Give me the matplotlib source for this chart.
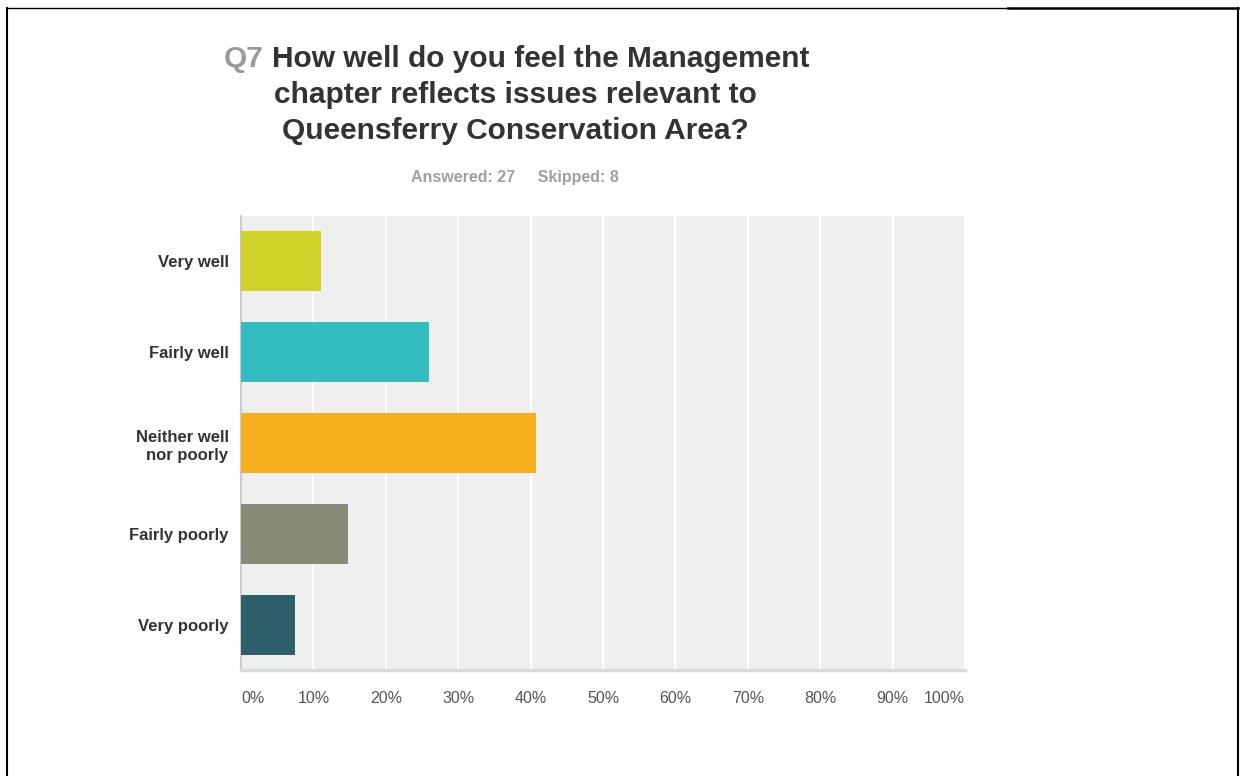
import matplotlib.pyplot as plt
from matplotlib.lines import Line2D

# survey answers (percent of 27 respondents)
categories = ["Very well", "Fairly well", "Neither well\nnor poorly", "Fairly poorly", "Very poorly"]
percents = [11.11, 25.93, 40.74, 14.81, 7.41]
colors = ["#D0D42A", "#33BDBF", "#F6AF1F", "#888A78", "#2D5F6B"]
xticks = [0, 10, 20, 30, 40, 50, 60, 70, 80, 90, 100]
xtick_labels = ["0%", "10%", "20%", "30%", "40%", "50%", "60%", "70%", "80%", "90%", "100%"]

W, H = 1240, 776
fig = plt.figure(figsize=(W / 100, H / 100), dpi=100)
fig.patch.set_facecolor("white")
plt.rcParams["font.family"] = ["Liberation Sans", "DejaVu Sans"]


def px(x, y):
    return x / W, 1 - y / H


ax = fig.add_axes([241 / W, 1 - 670 / H, (965 - 241) / W, (670 - 216) / H])
ax.set_facecolor("#EFEFEF")
ypos = list(range(len(categories)))
ax.barh(ypos, percents, height=0.66, color=colors, zorder=3)
ax.set_xlim(0, 100)
ax.set_ylim(len(categories) - 0.5, -0.5)

ax.set_xticks(xticks)
ax.xaxis.grid(True, color="white", linewidth=1.5, zorder=1)
ax.tick_params(axis="both", length=0)
ax.set_xticklabels(xtick_labels, fontsize=11.5, color="#555555")
ax.tick_params(axis="x", pad=15)
tl = ax.get_xticklabels()
tl[0].set_ha("left")
tl[-1].set_ha("right")

ax.set_yticks(ypos)
ax.set_yticklabels(categories, fontsize=12, fontweight="bold", color="#333333",
                   linespacing=1.3)
ax.tick_params(axis="y", pad=9)

for s in ["top", "right"]:
    ax.spines[s].set_visible(False)
ax.spines["bottom"].set_color("#DADADA")
ax.spines["bottom"].set_linewidth(2.5)
ax.spines["left"].set_color("#CCCCCC")
ax.spines["left"].set_linewidth(1.5)

# title
tsize = 21.5
fig.text(*px(272, 67), "How well do you feel the Management", fontsize=tsize,
         fontweight="bold", color="#333333", ha="left", va="baseline")
fig.text(*px(264, 67), "Q7", fontsize=tsize, fontweight="bold", color="#9A9A9A",
         ha="right", va="baseline")
fig.text(*px(515, 103), "chapter reflects issues relevant to", fontsize=tsize,
         fontweight="bold", color="#333333", ha="center", va="baseline")
fig.text(*px(515, 139), "Queensferry Conservation Area?", fontsize=tsize,
         fontweight="bold", color="#333333", ha="center", va="baseline")
fig.text(*px(515, 182), "Answered: 27     Skipped: 8", fontsize=11.5,
         fontweight="bold", color="#A0A0A0", ha="center", va="baseline")

# page frame
fig.lines.append(Line2D([7 / W, 7 / W], [0, 1 - 8 / H], transform=fig.transFigure,
                        color="black", linewidth=1.5))
fig.lines.append(Line2D([7 / W, 1008 / W], [1 - 7.5 / H, 1 - 7.5 / H],
                        transform=fig.transFigure, color="black", linewidth=1))
fig.lines.append(Line2D([1008 / W, 1238 / W], [1 - 8 / H, 1 - 8 / H],
                        transform=fig.transFigure, color="black", linewidth=1.8))
fig.lines.append(Line2D([1237.5 / W, 1237.5 / W], [0, 1 - 8 / H],
                        transform=fig.transFigure, color="black", linewidth=1.5))

fig.savefig("out.png", dpi=100)
